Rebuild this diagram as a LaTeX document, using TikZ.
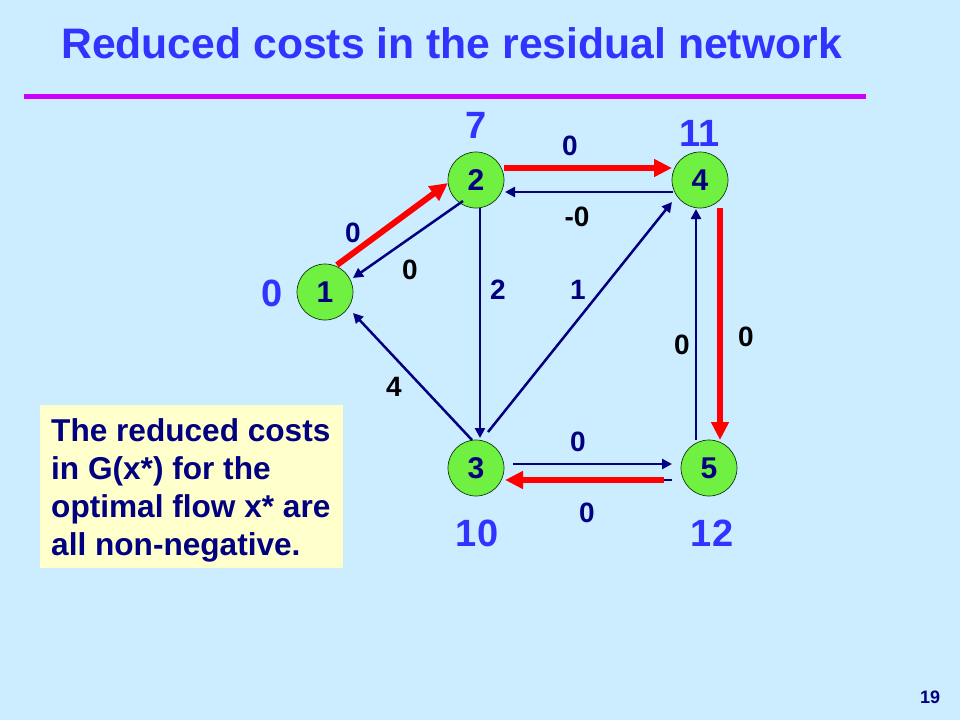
\documentclass[tikz,border=0pt]{standalone}
\usepackage{fontspec}
\setmainfont{Liberation Sans}
\usetikzlibrary{arrows.meta,calc}
\definecolor{bg}{HTML}{CCECFF}
\definecolor{titleblue}{HTML}{3333FF}
\definecolor{navy}{HTML}{000080}
\definecolor{nodegreen}{HTML}{70F040}
\definecolor{nodeborder}{HTML}{0F3A0F}
\definecolor{boxyellow}{HTML}{FFFFCC}
\definecolor{rulemag}{HTML}{CC00FF}
\definecolor{redarc}{HTML}{FF0000}
\begin{document}
\begin{tikzpicture}[x=1pt,y=-1pt,
  vert/.style={circle, draw=nodeborder, line width=0.7pt, fill=nodegreen, minimum size=56pt, inner sep=0pt, font=\fontsize{30}{32}\selectfont\bfseries, text=navy},
  redarrow/.style={draw=redarc, line width=6pt, -{Triangle[length=18pt,width=17pt]}},
  navyarrow/.style={draw=navy, line width=2.5pt, -{Triangle[length=10pt,width=10pt]}},
  elab/.style={font=\fontsize{28}{30}\selectfont\bfseries, text=navy, inner sep=0pt},
  elabk/.style={font=\fontsize{28}{30}\selectfont\bfseries, text=black, inner sep=0pt},
  pot/.style={font=\fontsize{38}{40}\selectfont\bfseries, text=titleblue, inner sep=0pt},
]
\useasboundingbox (0,0) rectangle (960,720);
\fill[bg] (0,0) rectangle (960,720);

% title and rule
\node[anchor=base west, inner sep=0pt, font=\fontsize{42.7}{45}\selectfont\bfseries, text=titleblue] (title) at (61,58) {Reduced costs in the residual network};
\draw[rulemag, line width=5pt] (24,96) -- (866,96);

% vertices
\node[vert] (n1) at (325,292) {1};
\node[vert] (n2) at (476,180) {2};
\node[vert] (n4) at (700,180) {4};
\node[vert] (n3) at (476,468) {3};
\node[vert] (n5) at (709,468) {5};

% arcs
\draw[redarrow] ($(n1)+(12,-27)$) -- ($(n2)+(-28,3)$);
\draw[navyarrow] ($(n2)+(-13,21)$) -- ($(n1)+(28,-14)$);
\draw[redarrow] ($(n2)+(28,-12)$) -- ($(n4)+(-28,-12)$);
\draw[navyarrow] ($(n4)+(-27,12)$) -- ($(n2)+(29,12)$);
\draw[navyarrow] ($(n2)+(4,28)$) -- ($(n3)+(4,-30)$);
\draw[navyarrow] ($(n3)+(12,-36)$) -- ($(n4)+(-28,22)$);
\draw[navyarrow] ($(n3)+(-4,-28)$) -- ($(n1)+(28,21)$);
\draw[navyarrow] ($(n5)+(-13,-28)$) -- ($(n4)+(-4,29)$);
\draw[redarrow] ($(n4)+(20,28)$) -- ($(n5)+(11,-28)$);
\draw[navyarrow] ($(n3)+(37,-4)$) -- ($(n5)+(-37,-4)$);
\draw[draw=navy, line width=2.5pt] ($(n5)+(-37,12)$) -- ($(n5)+(-45,12)$);
\draw[redarrow] ($(n5)+(-45,12)$) -- ($(n3)+(29,12)$);

% arc labels
\node[elab]  (l12) at (353,233) {0};
\node[elabk] (l21) at (410,270) {0};
\node[elab]  (l23) at (498,290) {2};
\node[elab]  (l34) at (578,290) {1};
\node[elabk] (l31) at (394,387) {4};
\node[elab]  (l24) at (570,146) {0};
\node[elabk] (l42) at (577,217) {-0};
\node[elabk] (l54) at (682,345) {0};
\node[elabk] (l45) at (746,337) {0};
\node[elab]  (l35) at (578,442) {0};
\node[elab]  (l53) at (587,513) {0};

% potentials
\node[pot] (p1) at (272,293) {0};
\node[pot] (p2) at (476,125) {7};
\node[pot] (p4) at (700,133) {11};
\node[pot] (p3) at (477,533) {10};
\node[pot] (p5) at (712,533) {12};

% note box
\node[fill=boxyellow, anchor=north west, minimum width=303pt, minimum height=163pt, inner sep=0pt] (box) at (40,405) {};
\node[anchor=north west, inner sep=0pt, align=left, font=\fontsize{31.6}{38}\selectfont\bfseries, text=navy] (note) at (51,418)
  {The reduced costs\\in G(x*) for the\\optimal flow x* are\\all non-negative.};

% page number
\node[font=\fontsize{18}{20}\selectfont\bfseries, text=navy] (pg) at (930,697) {19};
\end{tikzpicture}
\end{document}
